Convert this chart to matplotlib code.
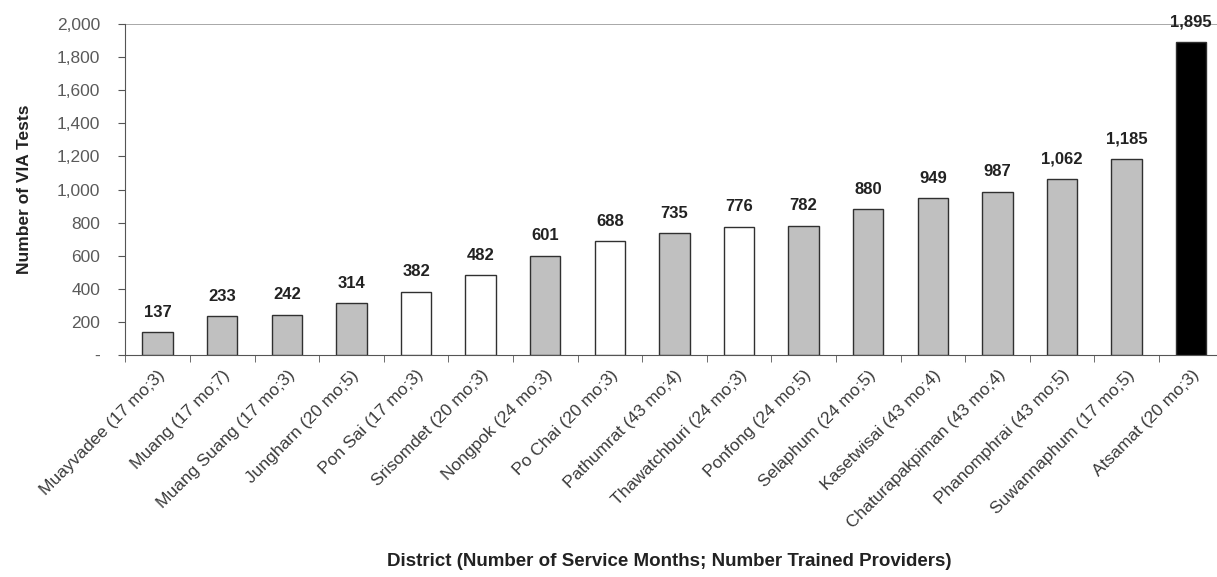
import numpy as np
import matplotlib
matplotlib.use('Agg')
import matplotlib.pyplot as plt

plt.rcParams['font.family'] = ['Liberation Sans', 'DejaVu Sans']

# districts (service months; trained providers) and VIA test counts
districts = ['Muayvadee (17 mo;3)', 'Muang (17 mo;7)', 'Muang Suang (17 mo;3)',
             'Jungharn (20 mo;5)', 'Pon Sai (17 mo;3)', 'Srisomdet (20 mo;3)',
             'Nongpok (24 mo;3)', 'Po Chai (20 mo;3)', 'Pathumrat (43 mo;4)',
             'Thawatchburi (24 mo;3)', 'Ponfong (24 mo;5)', 'Selaphum (24 mo;5)',
             'Kasetwisai (43 mo;4)', 'Chaturapakpiman (43 mo;4)', 'Phanomphrai (43 mo;5)',
             'Suwannaphum (17 mo;5)', 'Atsamat (20 mo;3)']
tests = [137, 233, 242, 314, 382, 482, 601, 688, 735, 776, 782, 880, 949, 987, 1062, 1185, 1895]
# g = grey, w = white, k = black
group = ['g', 'g', 'g', 'g', 'w', 'w', 'g', 'w', 'g', 'w', 'g', 'g', 'g', 'g', 'g', 'g', 'k']

colmap = {'g': '#c0c0c0', 'w': '#ffffff', 'k': '#000000'}
colors = [colmap[c] for c in group]

fig = plt.figure(figsize=(12.17, 5.77), dpi=100)
ax = fig.add_axes([0.103, 0.385, 0.905, 0.573])

x = np.arange(len(tests))
ax.bar(x, tests, width=0.47, color=colors, edgecolor='#303030', linewidth=1.0, zorder=3)

for xi, v in zip(x, tests):
    ax.text(xi, v + 75, f'{v:,}', ha='center', va='bottom', fontsize=12,
            fontweight='bold', color='#222222', clip_on=False)

ax.set_xlim(-0.5, len(tests) - 0.45)
ax.set_ylim(0, 2000)
ax.set_yticks(np.arange(0, 2001, 200))
ax.set_yticklabels(['-'] + [f'{v:,}' for v in range(200, 2001, 200)])
ax.axhline(2000, color='#999999', linewidth=1.2, zorder=1)

ax.set_xticks(x)
ax.set_xticklabels(districts, rotation=45, ha='right', rotation_mode='anchor')
ax.set_xticks(np.arange(-0.5, len(tests), 1), minor=True)
ax.tick_params(axis='x', which='major', length=0, pad=9, labelsize=12.5, labelcolor='#3a3a3a')
ax.tick_params(axis='x', which='minor', length=5, direction='out', color='#555555')
ax.tick_params(axis='y', length=5, direction='out', labelsize=12.5, labelcolor='#5a5a5a',
               color='#555555', pad=13)

for s in ['top', 'right']:
    ax.spines[s].set_visible(False)
ax.spines['left'].set_color('#555555')
ax.spines['bottom'].set_color('#555555')

ax.set_ylabel('Number of VIA Tests', fontsize=12.5, fontweight='bold', labelpad=18,
              color='#222222')
fig.text(0.55, 0.026, 'District (Number of Service Months; Number Trained Providers)',
         ha='center', va='center', fontsize=13.5, fontweight='bold', color='#222222')

fig.savefig('out.png', dpi=100)
